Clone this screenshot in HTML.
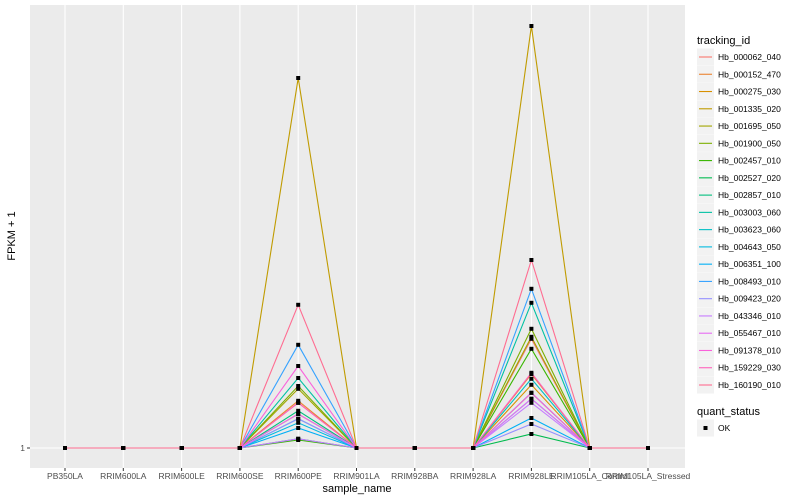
<!DOCTYPE html>
<html><head><meta charset="utf-8"><style>
body{margin:0;background:#fff;font-family:"Liberation Sans",sans-serif}
svg{display:block}
</style></head><body>
<svg id="chart" width="800" height="500" xmlns="http://www.w3.org/2000/svg"></svg>
<script>
const categories=["PB350LA","RRIM600LA","RRIM600LE","RRIM600SE","RRIM600PE","RRIM901LA","RRIM928BA","RRIM928LA","RRIM928LE","RRIM105LA_Control","RRIM105LA_Stressed"];
const seriesIds=["Hb_000062_040","Hb_000152_470","Hb_000275_030","Hb_001335_020","Hb_001695_050","Hb_001900_050","Hb_002457_010","Hb_002527_020","Hb_002857_010","Hb_003003_060","Hb_003623_060","Hb_004643_050","Hb_006351_100","Hb_008493_010","Hb_009423_020","Hb_043346_010","Hb_055467_010","Hb_091378_010","Hb_159229_030","Hb_160190_010"];
const colors=["#F8766D","#EA8331","#D89000","#C09B00","#A3A500","#7CAE00","#39B600","#00BB4E","#00BF7D","#00C1A3","#00BFC4","#00BAE0","#00B0F6","#35A2FF","#9590FF","#C77CFF","#E76BF3","#FA62DB","#FF62BC","#FF6C91"];
// FPKM+1 values at RRIM600PE and RRIM928LE; all other samples are 1
const peakPE=[12.3,12.8,9.5,93.5,15.8,16.5,3,3.3,10.3,18.5,8.3,7.3,6,26.8,8.3,3.3,9.5,21.5,12.3,36.8];
const peakLE=[28.3,19.5,16.8,106.5,28.8,30.8,25.8,4.5,14.8,37.3,18.3,13.3,8.5,40.8,7,12.3,13.3,14.8,19.8,48];
const yTicks=[1];
const yTickLabels=["1"];

const svg=document.getElementById('chart');
const NS="http://www.w3.org/2000/svg";
function el(tag,attrs,parent){const e=document.createElementNS(NS,tag);for(const k in attrs)e.setAttribute(k,attrs[k]);(parent||svg).appendChild(e);return e;}
const PL=30,PR=685,PT=5,PB=468;
const xStep=(648-65)/10;
function xs(i){return 65+i*xStep;}
function ys(v){return 448-(v-1)*4;}

const panel=el('rect',{x:PL,y:PT,width:PR-PL,height:PB-PT,fill:'#EBEBEB'});


// minor h grid
for(let v=1;v<=110;v+=25){}
categories.forEach((c,i)=>{
  const g=el('line',{x1:xs(i),x2:xs(i),y1:PT,y2:PB,stroke:'#fff','stroke-width':1.1});
  
  
  const t=el('text',{x:xs(i),y:479,'text-anchor':'middle','font-size':8.5,fill:'#4D4D4D'});
  t.textContent=c;
  
  
  el('line',{x1:xs(i),x2:xs(i),y1:PB,y2:PB+3,stroke:'#333','stroke-width':1});
});
yTicks.forEach((v,i)=>{
  const g=el('line',{x1:PL,x2:PR,y1:ys(v),y2:ys(v),stroke:'#fff','stroke-width':1.1});
  
  
  el('line',{x1:PL-3,x2:PL,y1:ys(v),y2:ys(v),stroke:'#333','stroke-width':1});
  const t=el('text',{x:PL-5,y:ys(v)+3,'text-anchor':'end','font-size':8.5,fill:'#4D4D4D'});
  t.textContent=yTickLabels[i];
  
  
});
const vals=seriesIds.map((id,s)=>categories.map((c,i)=>i===4?peakPE[s]:(i===8?peakLE[s]:1)));
seriesIds.forEach((id,s)=>{
  const p=el('polyline',{points:vals[s].map((v,i)=>xs(i)+','+ys(v)).join(' '),fill:'none',stroke:colors[s],'stroke-width':1.1});
  
  
});
seriesIds.forEach((id,s)=>{
  vals[s].forEach((v,i)=>{
    const r=el('rect',{x:xs(i)-2,y:ys(v)-2,width:4,height:4,fill:'#000'});
    
    
  });
});
const xt=el('text',{x:357,y:492,'text-anchor':'middle','font-size':11,fill:'#000'});
xt.textContent='sample_name';


const yt=el('text',{x:15,y:236,'text-anchor':'middle','font-size':11,fill:'#000',transform:'rotate(-90 15 236)'});
yt.textContent='FPKM + 1';


// legend
const lt=el('text',{x:697,y:44,'font-size':11,fill:'#000'});
lt.textContent='tracking_id';


const sp=(385-57)/19;
seriesIds.forEach((id,s)=>{
  const y=57+s*sp;
  const k=el('rect',{x:697,y:y-8.5,width:17,height:17,fill:'#F2F2F2'});
  
  
  el('line',{x1:699,x2:712,y1:y,y2:y,stroke:colors[s],'stroke-width':1.1});
  const t=el('text',{x:718,y:y+3,'font-size':8.5,fill:'#000'});
  t.textContent=id;
  
  
});
const qt=el('text',{x:697,y:415,'font-size':11,fill:'#000'});
qt.textContent='quant_status';


const qk=el('rect',{x:697,y:419.5,width:17,height:17,fill:'#F2F2F2'});


el('rect',{x:703.5,y:426,width:4,height:4,fill:'#000'});
const ok=el('text',{x:718,y:431,'font-size':8.5,fill:'#000'});
ok.textContent='OK';


</script>
</body></html>
